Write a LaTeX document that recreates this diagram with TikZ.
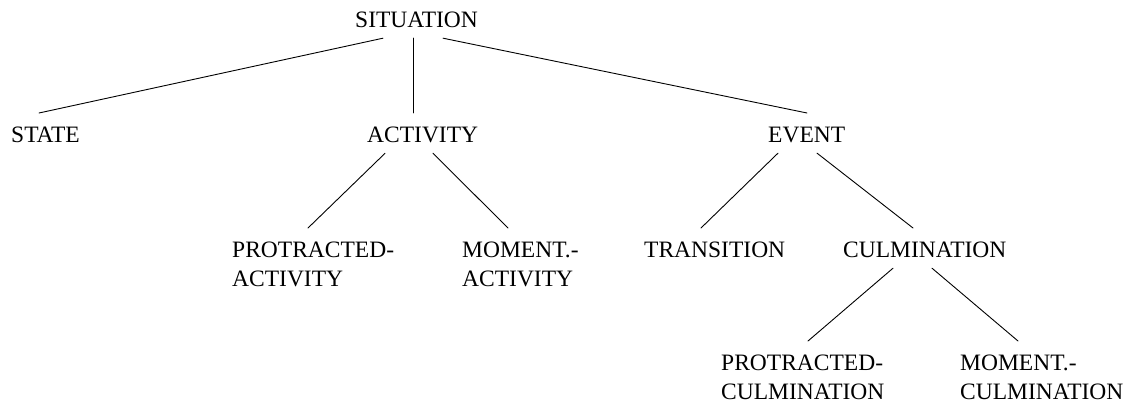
\documentclass[tikz,border=0pt]{standalone}
\usepackage{fontspec}
\setmainfont{Liberation Serif}
\usetikzlibrary{positioning}

\tikzset{
    word/.style={anchor=north west, inner sep=0pt, align=left, font=\fontsize{23.5}{28.5}\selectfont},
    branch/.style={black, line width=0.9pt}
}

\begin{document}
\begin{tikzpicture}[line cap=round,line join=round,x=1pt,y=-1pt]
    \useasboundingbox (0,0) rectangle (1126,404);

    % root
    \draw (355,12) node[word] (Sit) {SITUATION};

    % second level
    \draw (11,127) node[word] (St) {STATE};
    \draw (367,127) node[word] (Act) {ACTIVITY};
    \draw (768,127) node[word] (Ev) {EVENT};

    % third level
    \draw (232,242) node[word] (PA) {PROTRACTED-\\ACTIVITY};
    \draw (462,242) node[word] (MA) {MOMENT.-\\ACTIVITY};
    \draw (644,242) node[word] (Tr) {TRANSITION};
    \draw (843,242) node[word] (Cul) {CULMINATION};

    % fourth level
    \draw (721,355) node[word] (PC) {PROTRACTED-\\CULMINATION};
    \draw (960,355) node[word] (MC) {MOMENT.-\\CULMINATION};

    % Edges
    \foreach \source/\a/\target/\b in {Sit/28/St/28, Sit/58/Act/46, Sit/88/Ev/39,
            Act/18/PA/76, Act/66/MA/46, Ev/10/Tr/57, Ev/49/Cul/70,
            Cul/50/PC/87, Cul/89/MC/58} {
            \draw[branch] ([xshift=\a, yshift=-10]\source.south west) -- ([xshift=\b, yshift=14]\target.north west);
        }

\end{tikzpicture}
\end{document}
